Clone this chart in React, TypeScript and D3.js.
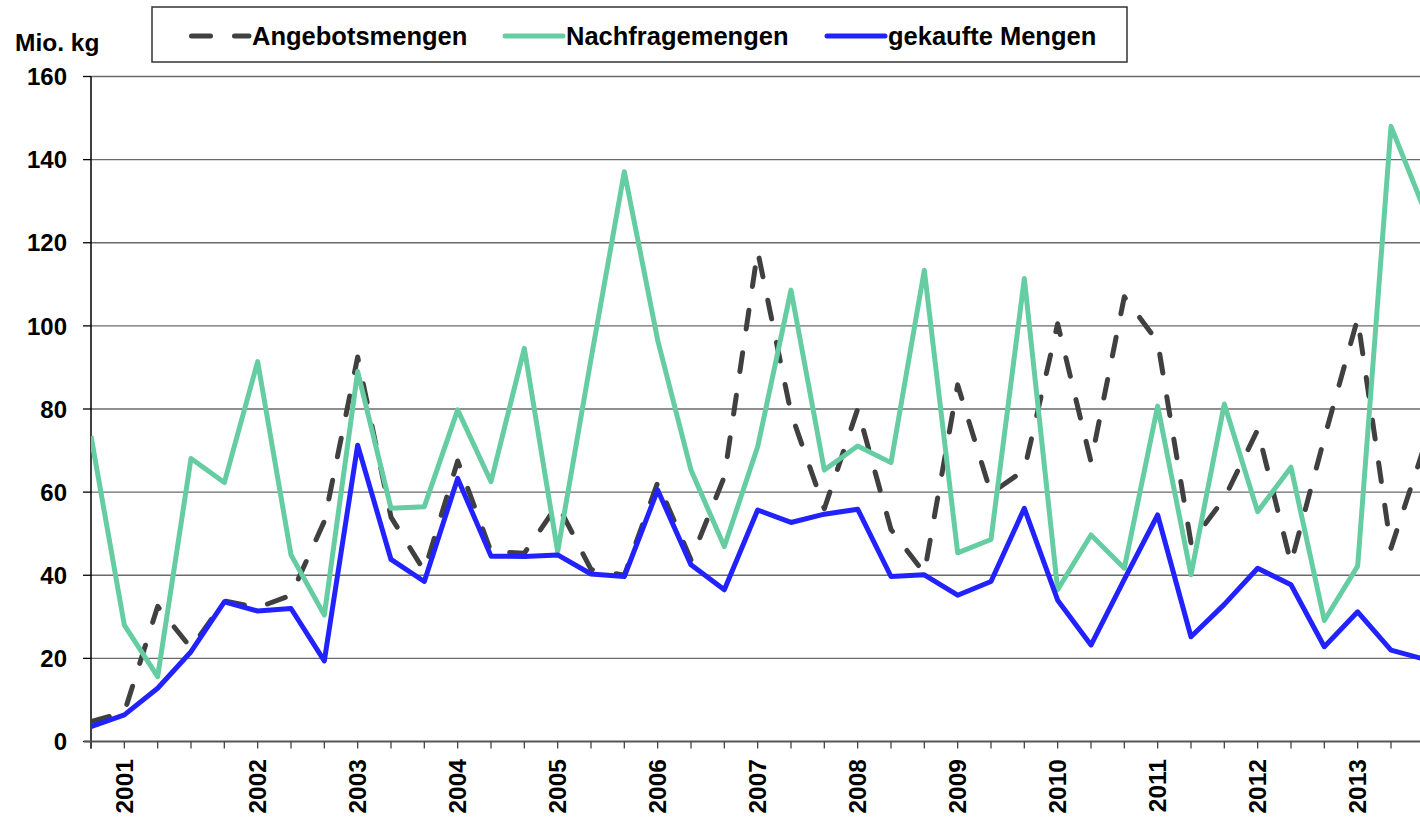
import React from 'react';
import * as d3 from 'd3';

// period labels (only the first period of each year is labelled)
const periods = [
  '', '2001', '', '', '', '2002', '', '', '2003', '', '', '2004', '', '', '2005', '', '', '2006', '', '',
  '2007', '', '', '2008', '', '', '2009', '', '', '2010', '', '', '2011', '', '', '2012', '', '', '2013', '', '',
];

const angebot = [
  4.8, 7, 32.5, 22.5, 33.8, 32.2, 35.2, 53, 92.5, 54, 41, 67.5, 45.7, 45.3, 57, 41.4, 40, 62.3, 43.7, 63.7,
  118, 79, 56, 80, 51, 40.5, 85.8, 59.7, 65.3, 100.5, 67.3, 107, 96.2, 47.8, 58.5, 75, 42.9, 73, 101.8, 46.5, 71,
];

const nachfrage = [
  73.5, 28, 15.6, 68.1, 62.3, 91.4, 44.9, 30.4, 89, 56.1, 56.5, 79.8, 62.5, 94.6, 45.7, 92, 137.1, 96.6, 65.3, 46.9,
  70.9, 108.6, 65.3, 71.1, 67.1, 113.4, 45.4, 48.6, 111.4, 36.5, 49.7, 41.7, 80.7, 40.1, 81.2, 55.3, 66, 29.1, 42.2, 148, 128,
];

const gekauft = [
  3.6, 6.4, 12.8, 21.6, 33.6, 31.4, 32, 19.4, 71.3, 43.8, 38.5, 63.3, 44.6, 44.5, 44.9, 40.3, 39.7, 60.5, 42.5, 36.5,
  55.7, 52.7, 54.7, 55.9, 39.7, 40.1, 35.2, 38.5, 56.1, 34, 23.2, 39, 54.5, 25.2, 33, 41.7, 37.7, 22.8, 31.2, 22, 19.8,
];

const yTicks = [0, 20, 40, 60, 80, 100, 120, 140, 160];

const series = [
  { name: 'Angebotsmengen', values: angebot, color: '#404040', dash: '19 24' },
  { name: 'Nachfragemengen', values: nachfrage, color: '#66CDA3', dash: null },
  { name: 'gekaufte Mengen', values: gekauft, color: '#2222FF', dash: null },
];

const font = '"Liberation Sans", Arial, sans-serif';

const App = () => {
  const width = 1420;
  const height = 819;
  const left = 91;
  const step = 33.333;

  const x = d3.scaleLinear().domain([0, periods.length - 1]).range([left, left + step * (periods.length - 1)]);
  const y = d3.scaleLinear().domain([0, 160]).range([741.5, 76.5]);

  const line = d3.line<number>()
    .x((d, i) => x(i))
    .y(d => y(d));

  const legendItems = [
    { s: series[0], x1: 189, x2: 249, tx: 252 },
    { s: series[1], x1: 505, x2: 563, tx: 566 },
    { s: series[2], x1: 827, x2: 885, tx: 888 },
  ];

  return (
    <svg width={width} height={height} style={{ position: 'absolute', left: 0, top: 0, background: '#fff' }}
      fontFamily={font} fontWeight="bold">
      <defs>
        <clipPath id="plot">
          <rect x={left} y={0} width={width - left} height={height} />
        </clipPath>
      </defs>

      {/* grid */}
      {yTicks.filter(t => t > 0).map(t => (
        <line key={t} x1={left} x2={width} y1={y(t)} y2={y(t)} stroke="#6a6a6a" strokeWidth={1.4} />
      ))}

      {/* y axis */}
      <line x1={left} x2={left} y1={y(160)} y2={y(0) + 7} stroke="#000" strokeWidth={1.5} />
      {yTicks.map(t => (
        <g key={t}>
          <line x1={83} x2={left} y1={y(t)} y2={y(t)} stroke="#000" strokeWidth={1.3} />
          <text x={67} y={y(t)} dy="0.36em" textAnchor="end" fontSize={24} fill="#000">{t}</text>
        </g>
      ))}
      <text x={15} y={42} dy="0.36em" fontSize={24.5} fill="#000">Mio. kg</text>

      {/* x axis */}
      <line x1={84} x2={width} y1={y(0)} y2={y(0)} stroke="#555" strokeWidth={2} />
      {periods.map((p, i) => (
        <g key={i}>
          <line x1={x(i)} x2={x(i)} y1={y(0)} y2={y(0) + 7} stroke="#444" strokeWidth={1.3} />
          {p && (
            <text transform={`translate(${x(i)},759) rotate(-90)`} dy="0.36em" textAnchor="end" fontSize={24.5} fill="#000">{p}</text>
          )}
        </g>
      ))}

      {/* series */}
      <g clipPath="url(#plot)">
        {series.map(s => (
          <path key={s.name} d={line(s.values) || ''} fill="none" stroke={s.color} strokeWidth={5}
            strokeLinejoin="round" strokeLinecap={s.dash ? 'round' : 'butt'}
            strokeDasharray={s.dash || undefined} />
        ))}
      </g>

      {/* legend */}
      <rect x={152} y={7} width={975} height={55} fill="#fff" stroke="#333" strokeWidth={1.5} />
      {legendItems.map(l => (
        <g key={l.s.name}>
          <line x1={l.x1 + (l.s.dash ? 2.5 : 0)} x2={l.x2} y1={36} y2={36} stroke={l.s.color} strokeWidth={5}
            strokeLinecap="round" strokeDasharray={l.s.dash || undefined} />
          <text x={l.tx} y={36} dy="0.36em" fontSize={25.5} fill="#000">{l.s.name}</text>
        </g>
      ))}
    </svg>
  );
};

export default App;
